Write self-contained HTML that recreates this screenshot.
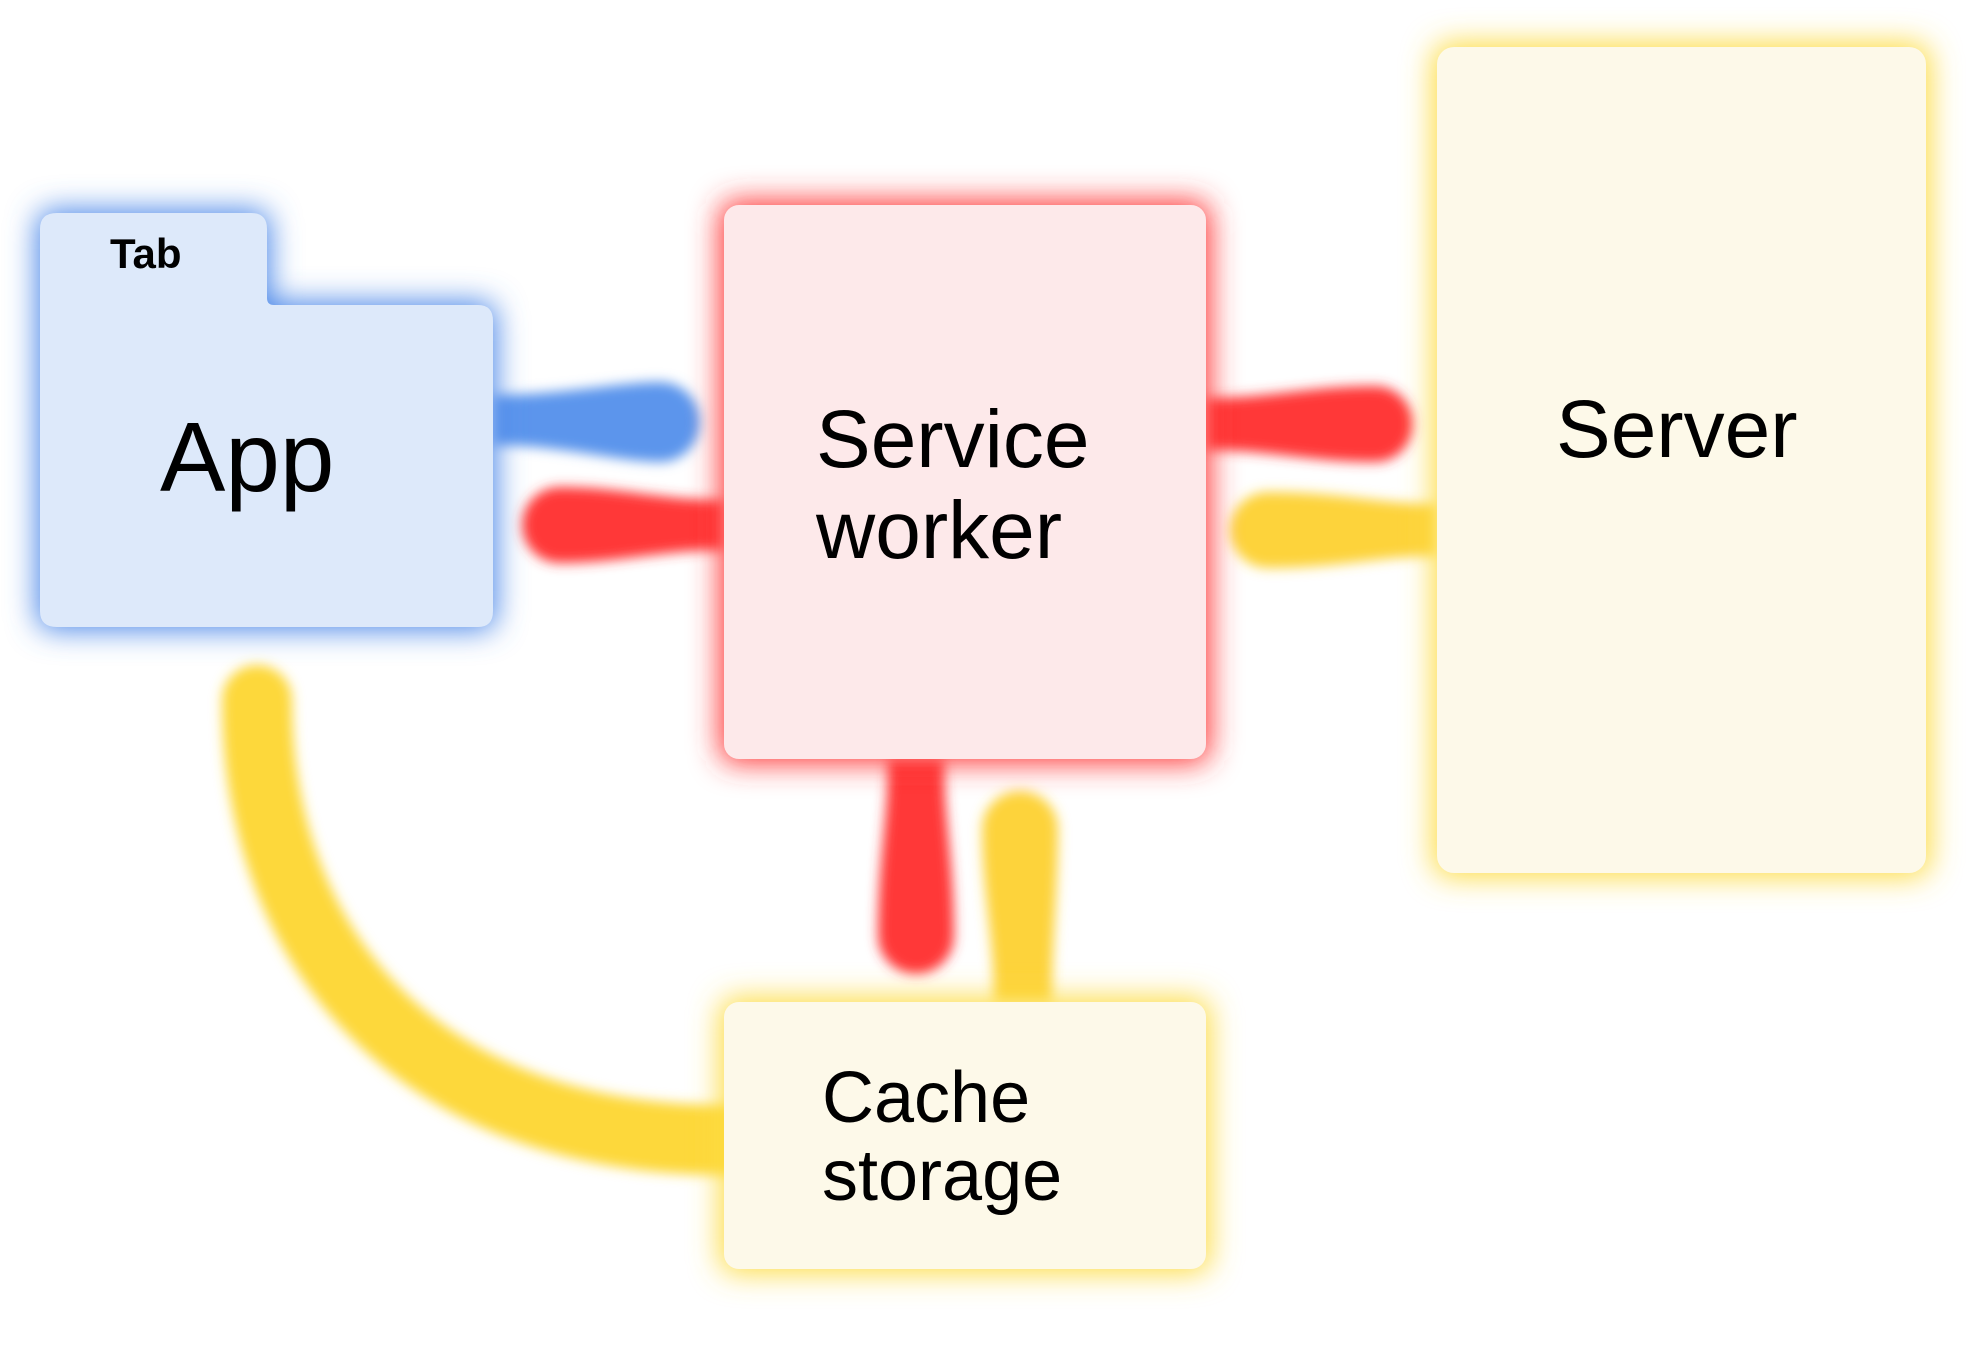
<!DOCTYPE html>
<html><head><meta charset="utf-8"><style>
html,body{margin:0;padding:0;background:#fff;width:1984px;height:1350px;overflow:hidden}
svg{display:block}
text{font-family:"Liberation Sans",sans-serif}
</style></head><body>
<svg width="1984" height="1350" viewBox="0 0 1984 1350">
<defs>
<filter id="g" x="-30%" y="-30%" width="160%" height="160%"><feGaussianBlur stdDeviation="15"/></filter>
<filter id="s" x="-30%" y="-30%" width="160%" height="160%"><feGaussianBlur stdDeviation="6"/></filter>
</defs>
<g filter="url(#s)">
<path d="M257,700 C257,950 420,1140 724,1140" stroke="#fdd83a" stroke-width="70" fill="none" stroke-linecap="round"/>
<path d="M493,395 C560,395 620,382 660,382 A40,40 0 0 1 660,462 C620,462 560,445 493,445 Z" fill="#5b95ec"/>
<path d="M724,500 C660,500 620,487 560,487 A38,38 0 0 0 560,563 C620,563 660,550 724,550 Z" fill="#ff3838"/>
<path d="M1206,398 C1270,398 1310,386 1375,386 A38,38 0 0 1 1375,462 C1310,462 1270,450 1206,450 Z" fill="#ff3838"/>
<path d="M1437,504 C1380,504 1340,492 1268,492 A38,38 0 0 0 1268,568 C1340,568 1380,556 1437,556 Z" fill="#fdd33a"/>
<path d="M888,759 C888,820 878,860 878,936 A38,38 0 0 0 954,936 C954,860 944,820 944,759 Z" fill="#ff3838"/>
<path d="M982,829 A38,38 0 0 1 1058,829 C1058,890 1052,940 1052,1002 L994,1002 C994,940 982,890 982,829 Z" fill="#fdd33a"/>
</g>
<g filter="url(#g)">
<path d="M56,210 H252 Q270,210 270,228 V298 Q270,302 276,302 H479 Q496,302 496,320 V612 Q496,630 479,630 H56 Q37,630 37,612 V228 Q37,210 56,210 Z" fill="#4a86e8"/>
<rect x="720" y="201" width="490" height="562" rx="16" fill="#ff3535"/>
<rect x="1433" y="43" width="497" height="834" rx="18" fill="#fddc40"/>
<rect x="720" y="998" width="490" height="275" rx="16" fill="#fddc40"/>
</g>
<path d="M57,213 H251 Q267,213 267,229 V298 Q267,305 274,305 H478 Q493,305 493,321 V611 Q493,627 478,627 H57 Q40,627 40,611 V229 Q40,213 57,213 Z" fill="#dde9fa"/>
<rect x="724" y="205" width="482" height="554" rx="15" fill="#fde9ea"/>
<rect x="1437" y="47" width="489" height="826" rx="17" fill="#fdf9e9"/>
<rect x="724" y="1002" width="482" height="267" rx="15" fill="#fdf9e9"/>
<text x="110" y="268" font-size="42" font-weight="bold" fill="#000">Tab</text>
<text x="160" y="491" font-size="98" fill="#000">App</text>
<text x="816" y="467" font-size="82" fill="#000">Service</text>
<text x="816" y="558" font-size="82" fill="#000">worker</text>
<text x="1556" y="457" font-size="82" fill="#000">Server</text>
<text x="822" y="1122" font-size="72" fill="#000">Cache</text>
<text x="822" y="1200" font-size="72" fill="#000">storage</text>
</svg>
</body></html>
